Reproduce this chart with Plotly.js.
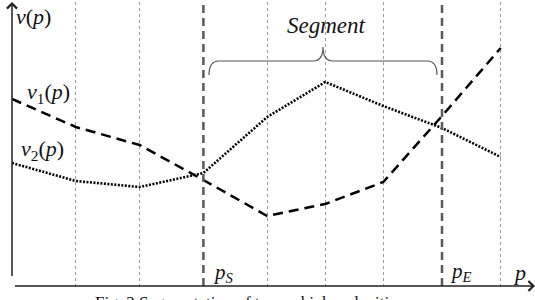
<!DOCTYPE html>
<html>
<head>
<meta charset="utf-8">
<script src="https://cdn.plot.ly/plotly-3.0.1.min.js"></script>
<style>html,body{margin:0;padding:0;background:#fff;}#chart{width:535px;height:300px;}</style>
</head>
<body>
<div id="chart"></div>
<script>
// positions along p (sample points)
const p = [0, 1, 2, 3, 4, 4.91, 5.82, 6.74, 7.66];
// v1(p) dashed curve values
const v1 = [187, 159, 141, 106, 70, 82, 104, 170, 238];
// v2(p) dotted curve values
const v2 = [123, 105, 99, 113, 169, 204, 180, 158, 129];
// indices of segment start / end
const iS = 3, iE = 7;
const gridP = p.filter((v, i) => i !== 0 && i !== iS && i !== iE);
const captionText = "Fig. 2 Segmentation of two vehicle velocities";

// helpers converting picture pixels to axis units (for decorations/text only)
const L = 12, B = 286, UNIT = 63.8;
const X = px => (px - L) / UNIT;
const Y = py => B - py;
const xMax = (535 - L) / UNIT;
const yMax = 284;

const serif = "Liberation Serif";

const traces = [
  {x: p, y: v1, mode: 'lines', line: {color: '#000', width: 2.5, dash: '10px,6px'}, hoverinfo: 'skip'},
  {x: p, y: v2, mode: 'lines', line: {color: '#000', width: 2.6, dash: '2px,1.5px'}, hoverinfo: 'skip'}
];

// curly brace path from pS to pE
const bx0 = X(209), bx1 = X(437), bm = (bx0 + bx1) / 2;
const yl = Y(61), ye = Y(75), yt = Y(47), dx = X(219) - X(209);
const bracePath = `M${bx0},${ye} Q${bx0},${yl} ${bx0+dx},${yl} L${bm-dx},${yl} Q${bm},${yl} ${bm},${yt} Q${bm},${yl} ${bm+dx},${yl} L${bx1-dx},${yl} Q${bx1},${yl} ${bx1},${ye}`;

const shapes = [
  {type: 'line', xref: 'x', yref: 'y', x0: p[iS], x1: p[iS], y0: 0, y1: Y(5), line: {color: '#5a5a5a', width: 2.5, dash: '8px,5px'}},
  {type: 'line', xref: 'x', yref: 'y', x0: p[iE], x1: p[iE], y0: 0, y1: Y(5), line: {color: '#5a5a5a', width: 2.5, dash: '8px,5px'}},
  {type: 'path', xref: 'x', yref: 'y', path: bracePath, line: {color: '#555', width: 1.2}}
];

const txt = (text, px, py, size, xa) => ({
  text, x: X(px), y: Y(py), xref: 'x', yref: 'y', showarrow: false,
  xanchor: xa || 'left', yanchor: 'middle', font: {family: serif, size, color: '#111'}
});

const annotations = [
  // axes with arrows
  {x: xMax, y: 0, ax: 0, ay: 0, xref: 'x', yref: 'y', axref: 'x', ayref: 'y', showarrow: true,
   arrowhead: 4, arrowsize: 1.3, arrowwidth: 1.5, arrowcolor: '#222', text: ' '},
  {x: 0, y: yMax, ax: 0, ay: 0, xref: 'x', yref: 'y', axref: 'x', ayref: 'y', showarrow: true,
   arrowhead: 4, arrowsize: 1.3, arrowwidth: 1.5, arrowcolor: '#222', text: ' '},
  txt('<i>v</i>(<i>p</i>)', 14, 16, 22),
  txt('<i>v</i><sub>1</sub>(<i>p</i>)', 25, 93, 22),
  txt('<i>v</i><sub>2</sub>(<i>p</i>)', 19, 150, 22),
  txt('<i>Segment</i>', 326, 25, 23, 'center'),
  txt('<i>p</i><sub><i>S</i></sub>', 211, 273, 21),
  txt('<i>p</i><sub><i>E</i></sub>', 448, 272, 21),
  txt('<i>p</i>', 511, 272, 22),
  {text: captionText, x: (93 - L) / 523, y: (B - 291) / 284, xref: 'paper', yref: 'paper', showarrow: false,
   xanchor: 'left', yanchor: 'top', font: {family: serif, size: 17, color: '#111'}}
];

const layout = {
  width: 535, height: 300,
  margin: {l: L, r: 0, t: 2, b: 14, pad: 0},
  paper_bgcolor: '#fff', plot_bgcolor: '#fff',
  showlegend: false,
  xaxis: {range: [0, xMax], tickvals: gridP, showticklabels: false, ticks: '',
          showgrid: true, gridcolor: '#9a9a9a', gridwidth: 1, griddash: 'dot',
          zeroline: false, showline: false, fixedrange: true},
  yaxis: {range: [0, yMax], showgrid: false, zeroline: false, showline: false,
          showticklabels: false, ticks: '', fixedrange: true},
  shapes, annotations
};

Plotly.newPlot('chart', traces, layout, {staticPlot: true, displayModeBar: false});
</script>
</body>
</html>
